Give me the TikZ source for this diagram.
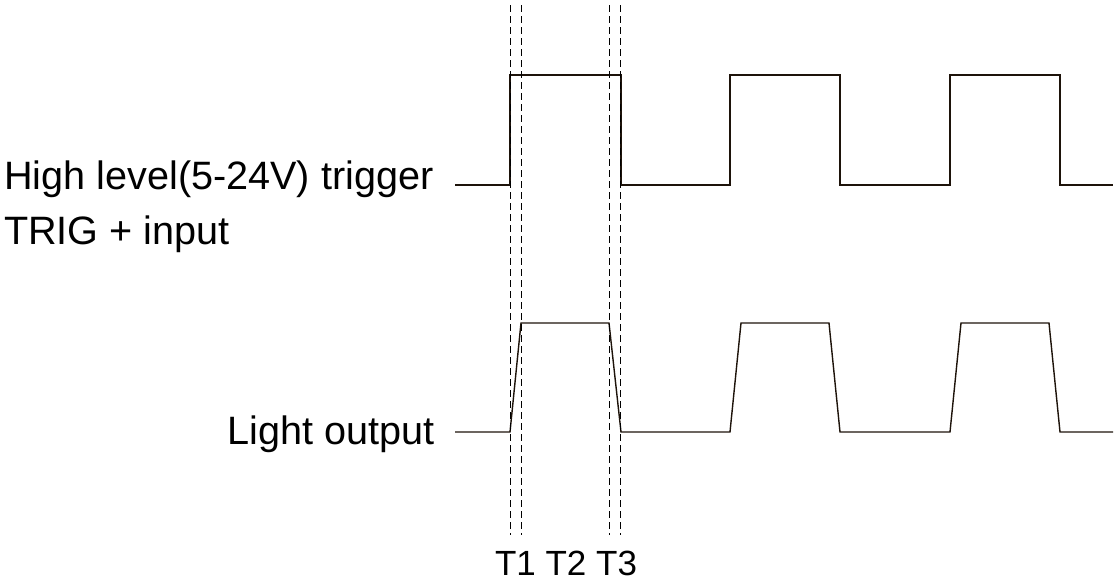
\documentclass[tikz,border=0pt]{standalone}
\usepackage{fontspec}
\setmainfont{Liberation Sans}
\usetikzlibrary{positioning,calc}
\tikzset{
  wave/.style={line width=1.4pt, black!85!brown},
  guide/.style={line width=0.9pt, dash pattern=on 7pt off 4pt},
  lbl/.style={inner sep=0pt, font=\fontsize{39.6}{44}\selectfont},
  tlbl/.style={inner sep=0pt, font=\fontsize{35}{40}\selectfont}
}
\begin{document}
\begin{tikzpicture}[x=1pt,y=-1pt]
\useasboundingbox (0,0) rectangle (1120,582);
% trigger input
\draw[wave] (455,185) -- (510,185) -- (510,75) -- (621,75) -- (621,185) -- (730,185) -- (730,75) -- (840,75) -- (840,185)
  -- (950,185) -- (950,75) -- (1060,75) -- (1060,185) -- (1113,185);
% light output
\draw[wave] (455,432) -- (510,432) -- (521,323) -- (609,323) -- (621,432) -- (730,432) -- (741,323) -- (829,323) -- (840,432)
  -- (950,432) -- (961,323) -- (1049,323) -- (1060,432) -- (1113,432);
% timing guides
\foreach \gx/\gn in {510/a, 521/b, 609/c, 620/d} {
  \coordinate (top\gn) at (\gx,5); \coordinate (bot\gn) at (\gx,535);
  \draw[guide] (top\gn) -- (bot\gn);
}
\node[lbl, anchor=base west] (trig1) at (4,189) {High level(5-24V) trigger};
\node[lbl, anchor=base west] (trig2) at (4,244) {TRIG + input};
\node[lbl, anchor=base east] (light) at (435,444) {Light output};
\node[tlbl, anchor=base] (times) at (566,575) {T1 T2 T3};
\end{tikzpicture}
\end{document}
